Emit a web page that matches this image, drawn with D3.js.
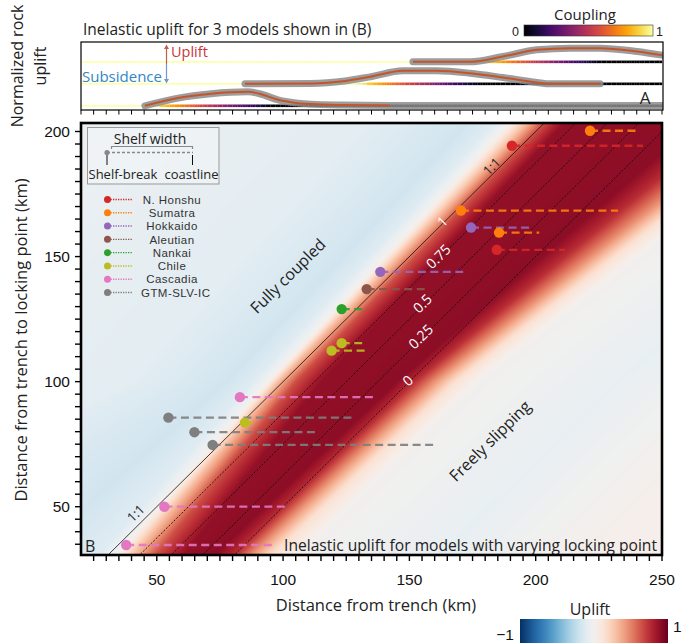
<!DOCTYPE html>
<html>
<head>
<meta charset="UTF-8">
<title>Inelastic uplift vs locking point</title>
<script src="https://cdn.jsdelivr.net/npm/d3@7/dist/d3.min.js"></script>
<style>
body { margin: 0; background: #fff; }
svg { display: block; font-family: 'Liberation Sans', Arial, sans-serif; }
.lbl { font-family: 'Open Sans', sans-serif; fill: #222; }
</style>
</head>
<body>
<svg id="fig" width="682" height="643"></svg>
<script>
// ---- data ----
const xTicks = [50, 100, 150, 200, 250];
const yTicks = [50, 100, 150, 200];

// coupling contours: parallel to the 1:1 line, shifted by km
const contourOffsets = [0, 12.5, 25, 37.5, 50];
const contourLabels = ["1", "0.75", "0.5", "0.25", "0"];
const contourLabelLock = [163.5, 149.5, 130.7, 117.5, 99.9];

// uplift field: offset (x - locking point, km) of each uplift level, at three locking points
const fieldRows = [31, 100, 203];
const fieldLevels = [-0.04, -0.1, -0.18, -0.12, 0, 0.3, 0.65, 0.88, 0.9, 0.75, 0.45, 0.15, 0, -0.07, 0.03];
const fieldOffsets = [
  [-240, -130, -30, -4, 3, 10, 19, 30, 42, 50, 57, 65, 76, 133, 190],
  [-200, -60, -22, -12, -6, -2, 5, 15, 45, 52, 60, 68, 77, 133, 190],
  [-200, -70, -30, -20, -14, -7, 0, 8, 60, 72, 85, 95, 105, 150, 200]
];

// subduction zones
const zones = ["N. Honshu", "Sumatra", "Hokkaido", "Aleutian", "Nankai", "Chile", "Cascadia", "GTM-SLV-IC"];
const zoneColors = ["#d62728", "#ff7f0e", "#9467bd", "#8c564b", "#2ca02c", "#bcbd22", "#e377c2", "#7f7f7f"];
const siteZone = [0, 0, 1, 1, 1, 2, 2, 3, 4, 5, 5, 5, 6, 6, 6, 7, 7, 7];
const siteShelfBreak = [190.6, 184.6, 221.5, 170.4, 185.5, 174.4, 138.5, 133.1, 123.2, 123.2, 119.2, 84.9, 82.9, 53.0, 37.9, 54.6, 64.9, 72.1];
const siteLock = [194.3, 152.7, 200.3, 168.4, 159.6, 161.6, 143.9, 137.0, 129.0, 115.4, 112.4, 83.6, 93.8, 50.0, 34.7, 85.6, 79.8, 74.7];
const siteCoast = [242.5, 211.6, 241.3, 232.6, 201.4, 198.4, 171.3, 156.8, 131.8, 131.7, 133.0, 88.9, 137.0, 101.4, 96.7, 128.5, 114.0, 160.1];

// panel A: three models
const modelLock = [46, 128, 176];
const couplingWidth = 50;
const modelShift = [0, 1.57, 3.14];
const modelCurveX = [
  [45.3, 58.4, 71.5, 86.1, 90.7, 98, 105.9, 111, 123, 142.3, 190, 250],
  [84.9, 111, 124.5, 134.4, 147.5, 160.9, 174, 187, 200.5, 205.7, 225.5],
  [151.4, 174, 187, 200.5, 213.6, 225.5, 240.1, 250]
];
const modelCurveY = [
  [0, 0.55, 0.86, 1.0, 0.86, 0.43, 0.19, 0.12, 0.06, 0.03, 0.02, 0.02],
  [0, 0.02, 0.2, 0.5, 0.93, 0.93, 0.76, 0.45, 0.1, 0, 0],
  [0, 0, 0.38, 0.86, 0.98, 0.98, 0.74, 0.48]
];
// where the orange model curve stops (km)
const modelCurveEnd = [142.3, 225.5, 250];

// ---- layout ----
const svg = d3.select("#fig");
const x = d3.scaleLinear().domain([20, 250]).range([81, 662]);
const y = d3.scaleLinear().domain([30.7, 203.4]).range([555, 123]);
const yA = d3.scaleLinear().domain([-0.3, 4.56]).range([110, 42]);
const upliftColor = d3.scaleDiverging(d3.interpolateRdBu).domain([1, 0, -1]);
const couplingColor = d3.scaleSequential(d3.interpolateInferno).domain([0, 1]);

const defs = svg.append("defs");
defs.append("clipPath").attr("id", "clipB").append("rect")
  .attr("x", 81).attr("y", 123).attr("width", 581).attr("height", 432);
defs.append("clipPath").attr("id", "clipA").append("rect")
  .attr("x", 81).attr("y", 42).attr("width", 582).attr("height", 68);

// ---- heatmap (B) ----
const pw = 581, ph = 432;
const canvas = document.createElement("canvas");
canvas.width = pw; canvas.height = ph;
const ctx = canvas.getContext("2d");
const img = ctx.createImageData(pw, ph);
const levelScales = fieldLevels.map((_, k) =>
  d3.scaleLinear().domain(fieldRows).range(fieldOffsets.map(r => r[k])).clamp(true));
for (let j = 0; j < ph; j++) {
  const L = y.invert(123 + j + 0.5);
  const prof = d3.scaleLinear().domain(levelScales.map(s => s(L))).range(fieldLevels).clamp(true);
  for (let i = 0; i < pw; i++) {
    const km = x.invert(81 + i + 0.5);
    const c = d3.rgb(upliftColor(prof(km - L)));
    const p = (j * pw + i) * 4;
    img.data[p] = c.r; img.data[p + 1] = c.g; img.data[p + 2] = c.b; img.data[p + 3] = 255;
  }
}
ctx.putImageData(img, 0, 0);
svg.append("image").attr("x", 81).attr("y", 123).attr("width", pw).attr("height", ph)
  .attr("href", canvas.toDataURL());

const gB = svg.append("g").attr("clip-path", "url(#clipB)");
const lockRange = [25, 210];
gB.selectAll(".contour").data(contourOffsets).join("line")
  .attr("x1", o => x(lockRange[0] + o)).attr("y1", y(lockRange[0]))
  .attr("x2", o => x(lockRange[1] + o)).attr("y2", y(lockRange[1]))
  .attr("stroke", "#111").attr("stroke-width", (o, i) => i === 0 ? 0.8 : 0.9)
  .attr("stroke-dasharray", (o, i) => i === 0 ? null : "2,1.6");

const ang = -Math.atan((y(100) - y(200)) / (x(200) - x(100))) * 180 / Math.PI;
gB.selectAll(".clab").data(contourLabels).join("text")
  .attr("class", "lbl")
  .attr("transform", (d, i) => {
    const px = x(contourLabelLock[i] + contourOffsets[i]) - 1.2, py = y(contourLabelLock[i]) - 1.2;
    return `translate(${px},${py}) rotate(${ang})`;
  })
  .attr("text-anchor", "middle").attr("dy", "0.35em")
  .style("fill", "#fff").style("font-size", "14px").text(d => d);

[[184.3, 6], [44.5, 10]].forEach(([L, d]) => {
  gB.append("text").attr("class", "lbl")
    .attr("transform", `translate(${x(L) - d * 0.707},${y(L) - d * 0.707}) rotate(${ang})`)
    .attr("text-anchor", "middle").attr("dy", "0.35em")
    .style("font-size", "13px").text("1:1");
});

// site markers
const sites = d3.range(siteZone.length);
gB.selectAll(".shelf").data(sites).join("line")
  .attr("x1", i => x(siteShelfBreak[i])).attr("x2", i => x(siteCoast[i]))
  .attr("y1", i => y(siteLock[i])).attr("y2", i => y(siteLock[i]))
  .attr("stroke", i => zoneColors[siteZone[i]]).attr("stroke-width", 2.3)
  .attr("stroke-dasharray", "8,4.5").attr("opacity", 0.9);
gB.selectAll(".site").data(sites).join("circle")
  .attr("cx", i => x(siteShelfBreak[i])).attr("cy", i => y(siteLock[i])).attr("r", 5.2)
  .attr("fill", i => zoneColors[siteZone[i]]);

// annotations
gB.append("text").attr("class", "lbl")
  .attr("transform", `translate(288,276) rotate(${ang})`)
  .attr("text-anchor", "middle").attr("dy", "0.35em").style("font-size", "16px").text("Fully coupled");
gB.append("text").attr("class", "lbl")
  .attr("transform", `translate(490,441) rotate(${ang})`)
  .attr("text-anchor", "middle").attr("dy", "0.35em").style("font-size", "16px").text("Freely slipping");
svg.append("text").attr("class", "lbl").attr("x", 85).attr("y", 552)
  .style("font-size", "16px").text("B");
svg.append("text").attr("class", "lbl").attr("x", 657).attr("y", 551).attr("text-anchor", "end")
  .style("font-size", "15.6px").text("Inelastic uplift for models with varying locking point");

// legend
const lg = svg.append("g");
lg.append("rect").attr("x", 87.5).attr("y", 127.5).attr("width", 131.5).attr("height", 56.5)
  .attr("fill", "#f2f5f7").attr("fill-opacity", 0.55).attr("stroke", "#999");
lg.append("text").attr("class", "lbl").attr("x", 150).attr("y", 144).attr("text-anchor", "middle")
  .style("font-size", "14px").text("Shelf width");
lg.append("path").attr("d", "M111.5,149V146.5H192.5V149").attr("fill", "none").attr("stroke", "#888").attr("stroke-width", 1.2);
lg.append("line").attr("x1", 107).attr("x2", 193).attr("y1", 152.5).attr("y2", 152.5)
  .attr("stroke", "#888").attr("stroke-width", 1.3).attr("stroke-dasharray", "3,2");
lg.append("circle").attr("cx", 107).attr("cy", 152.5).attr("r", 2.6).attr("fill", "#888");
lg.append("line").attr("x1", 107).attr("x2", 107).attr("y1", 155).attr("y2", 165).attr("stroke", "#111");
lg.append("line").attr("x1", 192.5).attr("x2", 192.5).attr("y1", 155).attr("y2", 165).attr("stroke", "#111");
lg.append("text").attr("class", "lbl").attr("x", 88.5).attr("y", 178.5).style("font-size", "13px").text("Shelf-break");
lg.append("text").attr("class", "lbl").attr("x", 218.5).attr("y", 178.5).attr("text-anchor", "end").style("font-size", "13px").text("coastline");

const ly = d3.scaleLinear().domain([0, 7]).range([199.5, 292.5]);
zones.forEach((z, i) => {
  lg.append("line").attr("x1", 108).attr("x2", 133).attr("y1", ly(i)).attr("y2", ly(i))
    .attr("stroke", zoneColors[i]).attr("stroke-width", 1.4).attr("stroke-dasharray", "1.3,1.2");
  lg.append("circle").attr("cx", 107.5).attr("cy", ly(i)).attr("r", 3.5).attr("fill", zoneColors[i]);
  const last = i === zones.length - 1;
  lg.append("text").attr("x", last ? 141 : 172).attr("y", ly(i) + 4.2)
    .attr("text-anchor", last ? "start" : "middle")
    .style("font-size", "11.5px").style("letter-spacing", "0.45px").style("fill", "#333").text(z);
});

// frame + axes (B)
svg.append("rect").attr("x", 81).attr("y", 123).attr("width", 581).attr("height", 432)
  .attr("fill", "none").attr("stroke", "#000").attr("stroke-width", 2.6);
const tickG = svg.append("g").attr("stroke", "#000").attr("stroke-width", 1.4);
tickG.selectAll(".xt").data(d3.range(25, 251, 5)).join("line")
  .attr("x1", d => x(d)).attr("x2", d => x(d)).attr("y1", 556).attr("y2", 561);
tickG.selectAll(".yt").data(d3.range(35, 204, 5)).join("line")
  .attr("y1", d => y(d)).attr("y2", d => y(d)).attr("x1", 80).attr("x2", 75);
svg.selectAll(".xl").data(xTicks).join("text")
  .attr("x", d => x(d)).attr("y", 585).attr("text-anchor", "middle")
  .style("font-size", "15.5px").style("fill", "#111").text(d => d);
svg.selectAll(".yl").data(yTicks).join("text")
  .attr("x", 70).attr("y", d => y(d) + 5.5).attr("text-anchor", "end")
  .style("font-size", "15.5px").style("fill", "#111").text(d => d);
svg.append("text").attr("class", "lbl").attr("x", 376).attr("y", 611).attr("text-anchor", "middle")
  .style("font-size", "16.5px").text("Distance from trench (km)");
svg.append("text").attr("class", "lbl").attr("transform", "translate(27,340) rotate(-90)")
  .attr("text-anchor", "middle").style("font-size", "16.5px").text("Distance from trench to locking point (km)");

// ---- panel A ----
const gA = svg.append("g").attr("clip-path", "url(#clipA)");
const line = d3.line().curve(d3.curveMonotoneX);
modelLock.forEach((L, m) => {
  const cpl = d3.scaleLinear().domain([L, L + couplingWidth]).range([1, 0]).clamp(true);
  const segs = d3.range(20, 250, 1);
  gA.selectAll(null).data(segs).join("line")
    .attr("x1", d => x(d)).attr("x2", d => x(d + 1.05))
    .attr("y1", yA(modelShift[m])).attr("y2", yA(modelShift[m]))
    .attr("stroke", d => couplingColor(cpl(d + 0.5))).attr("stroke-width", d => cpl(d) > 0.9 ? 1.6 : 2.6);
  const pts = modelCurveX[m].map((v, k) => [x(v), yA(modelShift[m] + modelCurveY[m][k])]);
  gA.append("path").attr("d", line(pts)).attr("fill", "none")
    .attr("stroke", "#8c8c8c").attr("stroke-opacity", 0.85).attr("stroke-width", 7).attr("stroke-linecap", "round");
  const orange = pts.filter((p, k) => modelCurveX[m][k] <= modelCurveEnd[m]);
  gA.append("path").attr("d", line(orange)).attr("fill", "none")
    .attr("stroke", "#c4552b").attr("stroke-width", 2);
});
svg.append("rect").attr("x", 81).attr("y", 42).attr("width", 582).attr("height", 68)
  .attr("fill", "none").attr("stroke", "#000").attr("stroke-width", 1.2);
svg.append("g").attr("stroke", "#000").attr("stroke-width", 1)
  .selectAll("line").data(d3.range(20, 251, 5)).join("line")
  .attr("x1", d => x(d)).attr("x2", d => x(d)).attr("y1", 110).attr("y2", 114.5);
svg.append("text").attr("class", "lbl").attr("x", 645).attr("y", 104).attr("text-anchor", "middle")
  .style("font-size", "17px").text("A");
svg.append("text").attr("class", "lbl").attr("x", 171).attr("y", 57)
  .style("font-size", "14.5px").style("fill", "#c8383a").text("Uplift");
svg.append("text").attr("class", "lbl").attr("x", 82).attr("y", 81.5)
  .style("font-size", "15px").style("fill", "#2f86c5").text("Subsidence");
svg.append("line").attr("x1", 166.5).attr("x2", 166.5).attr("y1", 47).attr("y2", 64).attr("stroke", "#c0604a").attr("stroke-width", 1.2);
svg.append("line").attr("x1", 166.5).attr("x2", 166.5).attr("y1", 64).attr("y2", 81).attr("stroke", "#6d9cc8").attr("stroke-width", 1.2);
svg.append("path").attr("d", "M164,49L166.5,44.5L169,49Z").attr("fill", "#c0604a");
svg.append("path").attr("d", "M164,79L166.5,83.5L169,79Z").attr("fill", "#6d9cc8");
svg.append("text").attr("class", "lbl").attr("x", 83).attr("y", 34.5)
  .style("font-size", "15.5px").text("Inelastic uplift for 3 models shown in (B)");
svg.append("text").attr("class", "lbl").attr("transform", "translate(23,66) rotate(-90)")
  .attr("text-anchor", "middle").style("font-size", "16px").text("Normalized rock");
svg.append("text").attr("class", "lbl").attr("transform", "translate(46,66) rotate(-90)")
  .attr("text-anchor", "middle").style("font-size", "16px").text("uplift");

// ---- colorbars ----
const gradC = defs.append("linearGradient").attr("id", "gc");
d3.range(0, 1.001, 0.1).forEach(t => gradC.append("stop").attr("offset", t).attr("stop-color", couplingColor(t)));
svg.append("rect").attr("x", 524).attr("y", 25).attr("width", 129).attr("height", 11)
  .attr("fill", "url(#gc)").attr("stroke", "#333").attr("stroke-width", 0.6);
svg.append("text").attr("class", "lbl").attr("x", 585).attr("y", 20).attr("text-anchor", "middle")
  .style("font-size", "15px").text("Coupling");
svg.append("text").attr("x", 519).attr("y", 36).attr("text-anchor", "end").style("font-size", "12.5px").style("fill", "#222").text("0");
svg.append("text").attr("x", 656).attr("y", 36).style("font-size", "12.5px").style("fill", "#222").text("1");

const gradU = defs.append("linearGradient").attr("id", "gu");
d3.range(0, 1.001, 0.05).forEach(t => gradU.append("stop").attr("offset", t).attr("stop-color", upliftColor(-1 + 2 * t)));
svg.append("rect").attr("x", 520).attr("y", 619).attr("width", 148).attr("height", 24)
  .attr("fill", "url(#gu)");
svg.append("text").attr("class", "lbl").attr("x", 590).attr("y", 615).attr("text-anchor", "middle")
  .style("font-size", "16px").text("Uplift");
svg.append("text").attr("x", 514).attr("y", 640).attr("text-anchor", "end").style("font-size", "15.5px").style("fill", "#111").text("\u22121");
svg.append("text").attr("x", 673).attr("y", 632).style("font-size", "15.5px").style("fill", "#111").text("1");
</script>
</body>
</html>
